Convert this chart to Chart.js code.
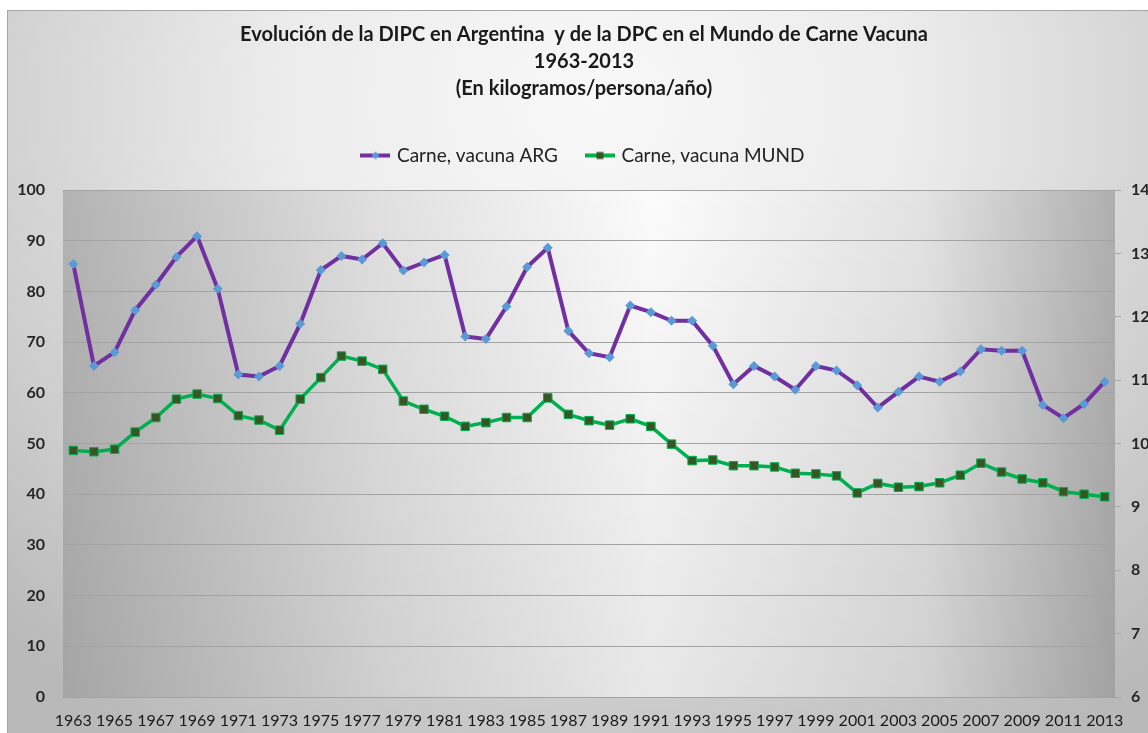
<!DOCTYPE html>
<html>
<head>
<meta charset="utf-8">
<script src="https://cdn.jsdelivr.net/npm/chart.js@4"></script>
<style>
  html, body { margin: 0; padding: 0; background: #fff; overflow: hidden; width: 1148px; height: 733px; }
  #frame {
    position: absolute; left: 7px; top: 10px; width: 1180px; height: 760px;
    border: 1px solid #a5a5a5; box-sizing: border-box;
    background: radial-gradient(ellipse 70% 100% at 50% 12%, #f8f8f8 0%, #ececec 38%, #cdcdcd 78%, #b9b9b9 100%);
  }
  #chart { position: absolute; left: 0; top: 0; }
</style>
</head>
<body>
<div id="frame"></div>
<canvas id="chart" width="1168" height="733"></canvas>
<script>
// years shown on the category axis
const years = [
  '1963','1964','1965','1966','1967','1968','1969','1970','1971','1972',
  '1973','1974','1975','1976','1977','1978','1979','1980','1981','1982',
  '1983','1984','1985','1986','1987','1988','1989','1990','1991','1992',
  '1993','1994','1995','1996','1997','1998','1999','2000','2001','2002',
  '2003','2004','2005','2006','2007','2008','2009','2010','2011','2012','2013'
];

// Argentina, kg/persona/año (left axis)
const argValues = [
  85.4, 65.3, 68.0, 76.3, 81.3, 86.8, 90.9, 80.5, 63.6, 63.2,
  65.3, 73.6, 84.2, 87.0, 86.3, 89.5, 84.1, 85.7, 87.2, 71.1,
  70.6, 77.0, 84.8, 88.6, 72.2, 67.8, 67.0, 77.2, 75.9, 74.2,
  74.2, 69.3, 61.7, 65.3, 63.2, 60.6, 65.3, 64.4, 61.5, 57.1,
  60.2, 63.2, 62.2, 64.2, 68.6, 68.3, 68.3, 57.6, 55.0, 57.8, 62.2
];

// Mundo, kg/persona/año (right axis)
const mundValues = [
  9.89, 9.87, 9.91, 10.18, 10.41, 10.70, 10.78, 10.71, 10.44, 10.37,
  10.21, 10.70, 11.04, 11.38, 11.30, 11.17, 10.67, 10.54, 10.43, 10.27,
  10.33, 10.41, 10.41, 10.72, 10.46, 10.36, 10.29, 10.39, 10.27, 9.99,
  9.73, 9.74, 9.65, 9.65, 9.63, 9.53, 9.52, 9.49, 9.22, 9.37,
  9.31, 9.32, 9.38, 9.50, 9.69, 9.55, 9.44, 9.38, 9.24, 9.20, 9.16
];

const seriesNames = ['Carne, vacuna ARG', 'Carne, vacuna MUND'];
const titleLines = [
  'Evolución de la DIPC en Argentina  y de la DPC en el Mundo de Carne Vacuna',
  '1963-2013',
  '(En kilogramos/persona/año)'
];

const FONT = 'Lato, "Open Sans", sans-serif';
const PURPLE = '#7030A0';
const BLUE = '#5B9BD5';
const GREEN = '#00B050';
const DARKGREEN = '#375623';

// small legend pictures: line with marker in the middle
function legendSymbol(lineColor, drawMarker) {
    const c = document.createElement('canvas');
    c.width = 30; c.height = 12;
    const g = c.getContext('2d');
    g.strokeStyle = lineColor;
    g.lineWidth = 4;
    g.beginPath(); g.moveTo(0, 6); g.lineTo(30, 6); g.stroke();
    drawMarker(g);
    return c;
}
const argSymbol = legendSymbol(PURPLE, g => {
    g.fillStyle = BLUE;
    g.beginPath(); g.moveTo(15, 2); g.lineTo(19, 6); g.lineTo(15, 10); g.lineTo(11, 6); g.closePath(); g.fill();
});
const mundSymbol = legendSymbol(GREEN, g => {
    g.fillStyle = DARKGREEN;
    g.fillRect(11.5, 2.5, 7, 7);
});

// plot area background (gray to white to gray)
const plotBackground = {
    id: 'plotBackground',
    beforeDraw(chart) {
        const { ctx, chartArea: a } = chart;
        ctx.save();
        const h = ctx.createLinearGradient(a.left, 0, a.right, 0);
        h.addColorStop(0, '#b3b3b3');
        h.addColorStop(0.3, '#e0e0e0');
        h.addColorStop(0.56, '#fbfbfb');
        h.addColorStop(0.82, '#e2e2e2');
        h.addColorStop(1, '#afafaf');
        ctx.fillStyle = h;
        ctx.fillRect(a.left, a.top, a.right - a.left, a.bottom - a.top);
        const v = ctx.createLinearGradient(0, a.top, 0, a.bottom);
        v.addColorStop(0, 'rgba(0,0,0,0)');
        v.addColorStop(1, 'rgba(0,0,0,0.08)');
        ctx.fillStyle = v;
        ctx.fillRect(a.left, a.top, a.right - a.left, a.bottom - a.top);
        ctx.restore();
    }
};

// empty box between legend and plot
const legendGap = {
    id: 'legendGap',
    beforeInit(chart) {
        Chart.layouts.addBox(chart, {
            position: 'top', weight: 500, fullSize: true, options: {},
            left: 0, top: 0, right: 0, bottom: 0, width: 0, height: 0,
            isHorizontal() { return true; },
            update(maxWidth) { this.width = maxWidth; this.height = 15; },
            draw() {}
        });
    }
};

new Chart(document.getElementById('chart'), {
    type: 'line',
    data: {
        labels: years,
        datasets: [
            {
                label: seriesNames[0],
                data: argValues,
                yAxisID: 'y',
                borderColor: PURPLE,
                backgroundColor: BLUE,
                borderWidth: 4,
                pointStyle: 'rectRot',
                pointRadius: 5,
                pointBackgroundColor: BLUE,
                pointBorderWidth: 0,
                tension: 0
            },
            {
                label: seriesNames[1],
                data: mundValues,
                yAxisID: 'y1',
                borderColor: GREEN,
                backgroundColor: DARKGREEN,
                borderWidth: 3.5,
                pointStyle: 'rect',
                pointRadius: 6,
                pointBackgroundColor: DARKGREEN,
                pointBorderColor: GREEN,
                pointBorderWidth: 1,
                tension: 0
            }
        ]
    },
    options: {
        responsive: false,
        animation: false,
        layout: { padding: 0 },
        plugins: {
            tooltip: { enabled: false },
            title: {
                display: true,
                text: titleLines,
                color: '#1a1a1a',
                font: { family: FONT, size: 20, weight: 'bold', lineHeight: '27px' },
                padding: { top: 21, bottom: 14 }
            },
            legend: {
                position: 'top',
                labels: {
                    color: '#222',
                    font: { family: FONT, size: 19 },
                    padding: 30,
                    usePointStyle: true,
                    pointStyleWidth: 24,
                    generateLabels(chart) {
                        const items = Chart.defaults.plugins.legend.labels.generateLabels(chart);
                        items[0].pointStyle = argSymbol;
                        items[1].pointStyle = mundSymbol;
                        return items;
                    }
                }
            }
        },
        scales: {
            x: {
                offset: true,
                grid: { display: false, drawTicks: false },
                border: { display: false },
                ticks: {
                    autoSkip: false,
                    maxRotation: 0,
                    minRotation: 0,
                    padding: 14,
                    color: '#1a1a1a',
                    font: { family: FONT, size: 16 },
                    callback(val, i) { return i % 2 === 0 ? years[i] : ''; }
                },
                afterFit(scale) { scale.height = 36; }
            },
            y: {
                position: 'left',
                min: 0,
                max: 100,
                ticks: {
                    stepSize: 10,
                    padding: 18,
                    color: '#262626',
                    font: { family: FONT, size: 16, weight: 'bold' }
                },
                grid: { color: '#a3a3a3', lineWidth: 1, drawTicks: false },
                border: { display: false },
                afterFit(scale) { scale.width = 63; }
            },
            y1: {
                position: 'right',
                min: 6,
                max: 14,
                ticks: {
                    stepSize: 1,
                    padding: 10,
                    color: '#262626',
                    font: { family: FONT, size: 16, weight: 'bold' }
                },
                grid: { drawOnChartArea: false, drawTicks: true, tickLength: 6, color: '#a8a8a8' },
                border: { display: false },
                afterFit(scale) { scale.width = 53; }
            }
        }
    },
    plugins: [plotBackground, legendGap]
});
</script>
</body>
</html>
